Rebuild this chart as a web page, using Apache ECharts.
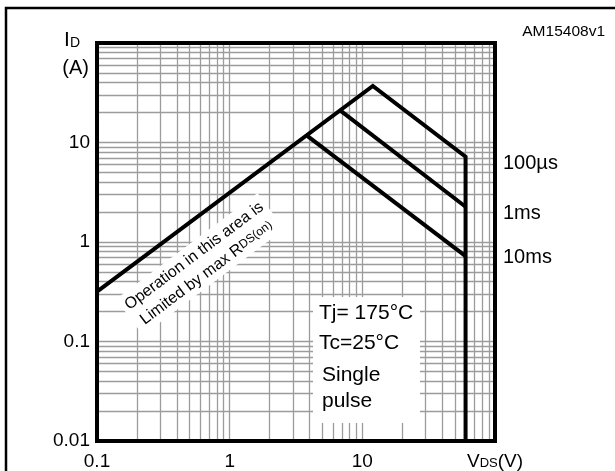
<!DOCTYPE html>
<html><head><meta charset="utf-8">
<script src="https://cdn.jsdelivr.net/npm/echarts@6/dist/echarts.min.js"></script>
<style>html,body{margin:0;padding:0;background:#fff}#c{width:615px;height:471px}</style>
</head><body><div id="c"></div>
<script>
// ---- data ----
const xGridValues = [0.2,0.3,0.4,0.5,0.6,0.7,0.8,0.9,1,2,3,4,5,6,7,8,9,10,20,30,40,50,60,70,80,90];
const yGridValues = [0.02,0.03,0.04,0.05,0.06,0.07,0.08,0.09,0.1,0.2,0.3,0.4,0.5,0.6,0.7,0.8,0.9,1,2,3,4,5,6,7,8,9,10,20,30,40,50,60,70,80,90];
const xTickLabels = ['0.1','1','10','VDS(V)'];
const yTickLabels = ['0.01','0.1','1','10',''];
// RDS(on) limit + 100us curve (rising, falling, vertical at VDSS)
const curve100us = [[0.1,0.317],[12,37],[60,7.2],[60,0.01]];
const curve1ms = [[6.8,21],[60,2.26]];
const curve10ms = [[3.8,11.8],[60,0.72]];
const curveNames = ['100µs','1ms','10ms'];
const conditions = ['Tj= 175°C','Tc=25°C','Single','pulse'];

const FONT = '"Liberation Sans", Arial, Helvetica, sans-serif';
const chart = echarts.init(document.getElementById('c'), null, {renderer:'canvas'});
const gridColor = '#9c9c9c';

function fmtX(v){
  const i = Math.round(Math.log10(v)) + 1;
  const t = xTickLabels[i];
  if (t === 'VDS(V)') return '{b|V}{s|DS}{b|(V)}';
  return t;
}
function fmtY(v){
  const i = Math.round(Math.log10(v)) + 2;
  return yTickLabels[i];
}

const gridMarks = xGridValues.map(v=>({xAxis:v})).concat(yGridValues.map(v=>({yAxis:v})));

const curveStyle = {color:'#000', width:4, cap:'butt', join:'miter'};
chart.setOption({
  animation:false,
  backgroundColor:'#fff',
  grid:{left:97, right:120, top:43, bottom:30, containLabel:false},
  xAxis:{type:'log', logBase:10, min:0.1, max:100,
    axisLine:{show:false}, axisTick:{show:false}, splitLine:{show:false},
    axisLabel:{fontSize:19, color:'#000', fontFamily:FONT, margin:11, formatter:fmtX,
      rich:{b:{fontSize:19, fontFamily:FONT, color:'#000'}, s:{fontSize:13, fontFamily:FONT, color:'#000', verticalAlign:'bottom', padding:[0,0,1,0]}}}},
  yAxis:{type:'log', logBase:10, min:0.01, max:100,
    axisLine:{show:false}, axisTick:{show:false}, splitLine:{show:false},
    axisLabel:{fontSize:19, color:'#000', fontFamily:FONT, margin:7, formatter:fmtY}},
  series:[
    {type:'line', data:[], z:1, silent:true,
      markLine:{silent:true, symbol:['none','none'], label:{show:false}, animation:false,
        lineStyle:{color:gridColor, type:'solid', width:1.3}, emphasis:{disabled:true}, data:gridMarks}},
    {type:'line', name:curveNames[0], data:curve100us, symbol:'none', lineStyle:curveStyle, z:10, silent:true},
    {type:'line', name:curveNames[1], data:curve1ms, symbol:'none', lineStyle:curveStyle, z:10, silent:true},
    {type:'line', name:curveNames[2], data:curve10ms, symbol:'none', lineStyle:curveStyle, z:10, silent:true}
  ]
});

const p0 = chart.convertToPixel({gridIndex:0},[0.1,0.01]);
const p1 = chart.convertToPixel({gridIndex:0},[100,100]);
const pText = chart.convertToPixel({gridIndex:0},[0.6,0.6]);
const ang = Math.atan((p0[1]-p1[1])/4 / ((p1[0]-p0[0])/3));
const T = (x,y,text,size,extra) => Object.assign({type:'text', z:6, silent:true, x:x, y:y,
  style:Object.assign({text:text, font:size+'px '+FONT, fill:'#000', verticalAlign:'middle'}, extra||{})});

chart.setOption({graphic:[
  {type:'rect', z:50, silent:true, shape:{x:6, y:8, width:800, height:800}, style:{fill:'none', stroke:'#000', lineWidth:2.5}},
  {type:'rect', z:50, silent:true, shape:{x:p0[0], y:p1[1], width:p1[0]-p0[0], height:p0[1]-p1[1]}, style:{fill:'none', stroke:'#000', lineWidth:4}},
  {type:'rect', z:5, silent:true, shape:{x:313, y:297, width:107, height:126}, style:{fill:'#fff'}},
  T(319,313,conditions[0],21),
  T(319,343,conditions[1],21),
  T(322,375,conditions[2],21),
  T(322,401,conditions[3],21),
  T(503,163,curveNames[0],20),
  T(503,213,curveNames[1],20),
  T(503,257,curveNames[2],20),
  T(605,32,'AM15408v1',15.5,{align:'right'}),
  T(64,51,'I',21,{verticalAlign:'bottom'}),
  T(70,50,'D',14,{verticalAlign:'bottom'}),
  T(89,68,'(A)',20,{align:'right'}),
  {type:'text', z:6, silent:true, x:pText[0], y:pText[1], rotation:ang, style:{
     text:'Operation in this area is\nLimited by max {r|R}{s|DS(on)}', font:'16px '+FONT, fill:'#000', align:'center', verticalAlign:'middle',
     lineHeight:21, backgroundColor:'#fff', padding:[2,4,1,4],
     rich:{r:{fontSize:16, fontFamily:FONT, fill:'#000', lineHeight:21}, s:{fontSize:12, fontFamily:FONT, fill:'#000', lineHeight:21, padding:[0,0,2,0]}}}}
]});
</script></body></html>
